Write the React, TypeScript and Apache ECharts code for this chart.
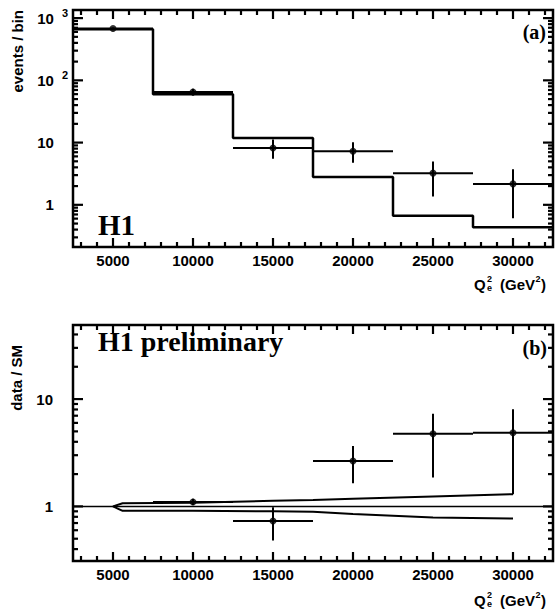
import React, { useEffect, useRef } from 'react';
import * as echarts from 'echarts';

// Q_e^2 bin edges (GeV^2) and Standard Model expectation per bin
const binEdges = [2500, 7500, 12500, 17500, 22500, 27500, 32500];
const smEvents = [660, 59.6, 11.9, 2.81, 0.666, 0.438];

// Observed events at the bin centres, with error-bar limits
const q2Centers = [5000, 10000, 15000, 20000, 25000, 30000];
const dataEvents = [680, 65, 8.2, 7.25, 3.23, 2.17];
const dataLow = [655, 57, 5.5, 4.73, 1.36, 0.61];
const dataHigh = [705, 73, 11.2, 10.1, 4.95, 3.74];

// Ratio data / SM, with error-bar limits
const ratioCenters = [10000, 15000, 20000, 25000, 30000];
const ratio = [1.1, 0.73, 2.65, 4.75, 4.85];
const ratioLow = [1.03, 0.48, 1.64, 1.86, 1.3];
const ratioHigh = [1.18, 0.98, 3.65, 7.3, 8.05];

// Edges of the SM uncertainty band
const bandQ2 = [5000, 5600, 10000, 15000, 17500, 20000, 25000, 30000];
const bandUpper = [1.0, 1.07, 1.08, 1.13, 1.15, 1.18, 1.24, 1.3];
const bandLower = [1.0, 0.91, 0.91, 0.9, 0.89, 0.85, 0.79, 0.77];

// Axis ranges and tick labels
const q2Min = 2500;
const q2Max = 32500;
const q2Labels = [5000, 10000, 15000, 20000, 25000, 30000];
const eventsMin = 0.21;
const eventsMax = 1350;
const ratioMin = 0.31;
const ratioMax = 49;

const SANS = '"Liberation Sans", Arial, sans-serif';
const SERIF = '"Liberation Serif", "Times New Roman", serif';
const INK = '#000';

// frame sizes in pixels
const PLOT_W = 481;
const TOP_H = 237;
const BOTTOM_H = 236;

function q2MinorTicks(): number[] {
  const out: number[] = [];
  for (let v = 3000; v <= 32000; v += 1000) if (v % 5000 !== 0) out.push(v);
  return out;
}

function decadeTicks(min: number, max: number) {
  const major: number[] = [];
  const minor: number[] = [];
  for (let e = -2; e <= 4; e++) {
    const p = Math.pow(10, e);
    if (p >= min && p <= max) major.push(p);
    for (let m = 2; m <= 9; m++) {
      const v = m * p;
      if (v > min && v < max) minor.push(v);
    }
  }
  return { major, minor };
}

function isPow10(v: number) {
  const e = Math.round(Math.log10(v));
  return Math.abs(v - Math.pow(10, e)) < 1e-6 * Math.pow(10, e);
}

// Inward frame ticks on all four edges. Each row: [anchorX, anchorY, x1, y1, x2, y2]
// in data units, the anchor being the inner end of the tick.
function frameTickRows(yMin: number, yMax: number, plotH: number) {
  const rows: number[][] = [];
  const span = yMax / yMin;
  const vertical = (x: number, len: number) => {
    const k = Math.pow(span, len / plotH);
    rows.push([x, yMin * k, x, yMin, x, yMin * k]);
    rows.push([x, yMax / k, x, yMax, x, yMax / k]);
  };
  const horizontal = (y: number, len: number) => {
    const dx = ((q2Max - q2Min) * len) / PLOT_W;
    rows.push([q2Min + dx, y, q2Min, y, q2Min + dx, y]);
    rows.push([q2Max - dx, y, q2Max, y, q2Max - dx, y]);
  };
  q2Labels.forEach((x) => vertical(x, 9));
  q2MinorTicks().forEach((x) => vertical(x, 5));
  const t = decadeTicks(yMin, yMax);
  t.major.forEach((y) => horizontal(y, 10));
  t.minor.forEach((y) => horizontal(y, 5));
  return rows;
}

function segmentSeries(axisIndex: number, rows: number[][], width: number) {
  return {
    type: 'custom',
    xAxisIndex: axisIndex,
    yAxisIndex: axisIndex,
    encode: { x: 0, y: 1 },
    data: rows,
    renderItem: (_params: any, api: any) => {
      const a = api.coord([api.value(2), api.value(3)]);
      const b = api.coord([api.value(4), api.value(5)]);
      return {
        type: 'line',
        shape: { x1: a[0], y1: a[1], x2: b[0], y2: b[1] },
        style: { stroke: INK, lineWidth: width },
      };
    },
  };
}

const tickLabel = {
  color: INK,
  fontFamily: SANS,
  fontWeight: 'bold',
  fontSize: 15,
};

function errorBars(axisIndex: number, rows: number[][]) {
  return {
    type: 'custom',
    xAxisIndex: axisIndex,
    yAxisIndex: axisIndex,
    encode: { x: 0, y: 1 },
    data: rows,
    renderItem: (_params: any, api: any) => {
      const x = api.value(0);
      const v = api.value(1);
      const lo = api.coord([x, api.value(2)]);
      const hi = api.coord([x, api.value(3)]);
      const l = api.coord([api.value(4), v]);
      const r = api.coord([api.value(5), v]);
      return {
        type: 'group',
        children: [
          { type: 'line', shape: { x1: lo[0], y1: lo[1], x2: hi[0], y2: hi[1] }, style: { stroke: INK, lineWidth: 2 } },
          { type: 'line', shape: { x1: l[0], y1: l[1], x2: r[0], y2: r[1] }, style: { stroke: INK, lineWidth: 2 } },
        ],
      };
    },
  };
}

function binOf(x: number) {
  const i = binEdges.findIndex((e, k) => k < binEdges.length - 1 && x > e && x < binEdges[k + 1]);
  return [binEdges[i], binEdges[i + 1]];
}

function qTitle(yc: number) {
  const big = `bold 15px ${SANS}`;
  const small = `bold 9px ${SANS}`;
  const base = { fill: INK, verticalAlign: 'middle' };
  return [
    { type: 'text', x: 474, y: yc, style: { ...base, text: 'Q', font: big } },
    { type: 'text', x: 487, y: yc - 5, style: { ...base, text: '2', font: small } },
    { type: 'text', x: 487, y: yc + 4, style: { ...base, text: 'e', font: small } },
    { type: 'text', x: 500, y: yc, style: { ...base, text: '(GeV', font: big } },
    { type: 'text', x: 535.5, y: yc - 5, style: { ...base, text: '2', font: small } },
    { type: 'text', x: 541, y: yc, style: { ...base, text: ')', font: big } },
  ];
}

export default function App() {
  const ref = useRef<HTMLDivElement>(null);

  useEffect(() => {
    if (!ref.current) return;
    const chart = echarts.init(ref.current, undefined, { renderer: 'svg' });

    const smLine = binEdges.map((x, i) => [x, smEvents[Math.min(i, smEvents.length - 1)]]);
    const eventRows = q2Centers.map((x, i) => {
      const [a, b] = binOf(x);
      return [x, dataEvents[i], dataLow[i], dataHigh[i], a, b];
    });
    const ratioRows = ratioCenters.map((x, i) => {
      const [a, b] = binOf(x);
      return [x, ratio[i], ratioLow[i], ratioHigh[i], a, b];
    });
    const band = [
      ...bandQ2.map((x, i) => [x, bandUpper[i]]).reverse(),
      ...bandQ2.slice(1).map((x, i) => [x, bandLower[i + 1]]),
    ];

    const xAxis = (gridIndex: number) => ({
      type: 'value',
      gridIndex,
      min: q2Min,
      max: q2Max,
      splitNumber: 6,
      axisLine: { show: false },
      axisTick: { show: false },
      splitLine: { show: false },
      axisLabel: { ...tickLabel, margin: 6, formatter: (v: number) => (q2Labels.includes(v) ? String(v) : '') },
    });

    const eventsLabel = {
      ...tickLabel,
      margin: 5,
      formatter: (v: number) => {
        if (!isPow10(v)) return '';
        const e = Math.round(Math.log10(v));
        if (e >= 2) return `{m|10}{s|${e}}`;
        return `{m|${Math.pow(10, e)}}{g|3}`;
      },
      rich: {
        m: { fontFamily: SANS, fontWeight: 'bold', fontSize: 15, color: INK, lineHeight: 22, verticalAlign: 'middle' },
        s: { fontFamily: SANS, fontWeight: 'bold', fontSize: 11, color: INK, lineHeight: 10, verticalAlign: 'top', padding: [0, 0, 0, 8] },
        g: { fontFamily: SANS, fontWeight: 'bold', fontSize: 11, color: 'transparent', lineHeight: 10, verticalAlign: 'top', padding: [0, 0, 0, 8] },
      },
    };
    const ratioLabel = {
      ...tickLabel,
      margin: 20,
      formatter: (v: number) => (isPow10(v) ? String(Math.round(v)) : ''),
    };

    const yAxis = (gridIndex: number, min: number, max: number, label: any) => ({
      type: 'log',
      logBase: 10,
      gridIndex,
      min,
      max,
      axisLine: { show: false },
      axisTick: { show: false },
      splitLine: { show: false },
      axisLabel: label,
    });

    chart.setOption({
      animation: false,
      grid: [
        { left: 73, top: 10, width: PLOT_W, height: TOP_H, show: true, borderColor: INK, borderWidth: 2.5, backgroundColor: 'transparent' },
        { left: 73, top: 325, width: PLOT_W, height: BOTTOM_H, show: true, borderColor: INK, borderWidth: 2.5, backgroundColor: 'transparent' },
      ],
      xAxis: [xAxis(0), xAxis(1)],
      yAxis: [yAxis(0, eventsMin, eventsMax, eventsLabel), yAxis(1, ratioMin, ratioMax, ratioLabel)],
      graphic: [
        {
          type: 'text', x: 17, y: 10, rotation: Math.PI / 2,
          style: { text: 'events / bin', font: `bold 15px ${SANS}`, fill: INK, align: 'right', verticalAlign: 'middle' },
        },
        {
          type: 'text', x: 16, y: 345, rotation: Math.PI / 2,
          style: { text: 'data / SM', font: `bold 15px ${SANS}`, fill: INK, align: 'right', verticalAlign: 'middle' },
        },
        { type: 'text', x: 98, y: 225, style: { text: 'H1', font: `bold 29px ${SERIF}`, fill: INK, verticalAlign: 'middle' } },
        { type: 'text', x: 98, y: 341, style: { text: 'H1 preliminary', font: `bold 28px ${SERIF}`, fill: INK, verticalAlign: 'middle' } },
        { type: 'text', x: 546, y: 32, style: { text: '(a)', font: `bold 20px ${SERIF}`, fill: INK, align: 'right', verticalAlign: 'middle' } },
        { type: 'text', x: 547, y: 348, style: { text: '(b)', font: `bold 20px ${SERIF}`, fill: INK, align: 'right', verticalAlign: 'middle' } },
        ...qTitle(284),
        ...qTitle(600),
      ],
      series: [
        segmentSeries(0, frameTickRows(eventsMin, eventsMax, TOP_H), 2.2),
        {
          type: 'line',
          xAxisIndex: 0,
          yAxisIndex: 0,
          step: 'end',
          data: smLine,
          symbol: 'none',
          lineStyle: { color: INK, width: 2.5 },
        },
        errorBars(0, eventRows),
        {
          type: 'scatter',
          xAxisIndex: 0,
          yAxisIndex: 0,
          data: q2Centers.map((x, i) => [x, dataEvents[i]]),
          symbol: 'circle',
          symbolSize: 7,
          itemStyle: { color: INK },
        },
        segmentSeries(1, frameTickRows(ratioMin, ratioMax, BOTTOM_H), 2.2),
        {
          type: 'line',
          xAxisIndex: 1,
          yAxisIndex: 1,
          data: [[q2Min, 1], [q2Max, 1]],
          symbol: 'none',
          lineStyle: { color: INK, width: 1.5 },
        },
        {
          type: 'line',
          xAxisIndex: 1,
          yAxisIndex: 1,
          data: band,
          symbol: 'none',
          lineStyle: { color: INK, width: 2 },
        },
        errorBars(1, ratioRows),
        {
          type: 'scatter',
          xAxisIndex: 1,
          yAxisIndex: 1,
          data: ratioCenters.map((x, i) => [x, ratio[i]]),
          symbol: 'circle',
          symbolSize: 7,
          itemStyle: { color: INK },
        },
      ],
    });

    return () => chart.dispose();
  }, []);

  return (
    <div
      ref={ref}
      style={{ position: 'fixed', left: 0, top: 0, width: 556, height: 611, background: '#fff' }}
    />
  );
}
